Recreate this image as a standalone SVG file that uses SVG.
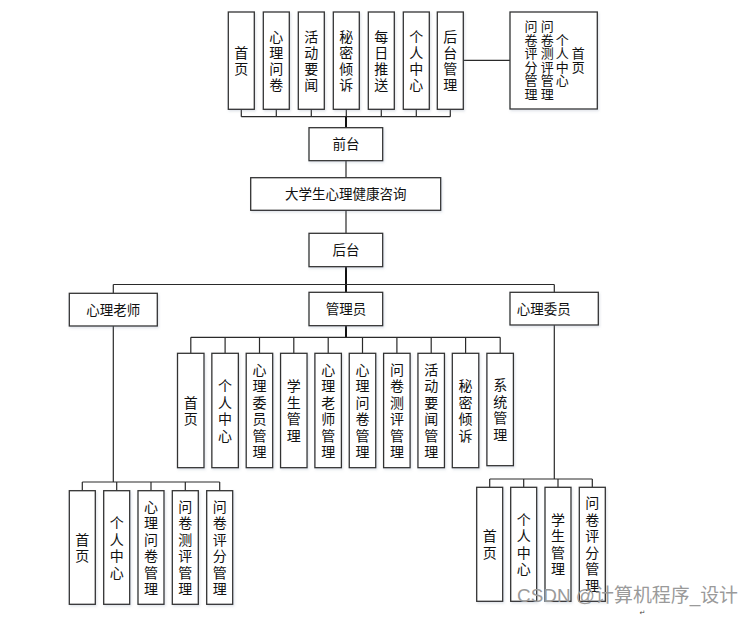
<svg xmlns="http://www.w3.org/2000/svg" width="755" height="617" viewBox="0 0 755 617">
<style>
  .box{fill:#ffffff;stroke:#333333;stroke-width:1.3;filter:url(#sh)}
  .ln{fill:none;stroke:#2a2a2a;stroke-width:1.2}
  .tk{fill:none;stroke:#111111;stroke-width:2}
  text{font-family:"Noto Sans CJK SC","Noto Sans",sans-serif;fill:#111111}
  .vt{font-size:14px;text-anchor:middle;writing-mode:vertical-rl;letter-spacing:2px}
  .vm{font-size:14px;text-anchor:middle;writing-mode:vertical-rl;letter-spacing:2.5px}
  .vs{font-size:13px;text-anchor:middle;writing-mode:vertical-rl;letter-spacing:0.5px}
  .h{font-size:13.5px;text-anchor:middle}
  .wm{font-family:"Liberation Sans","Noto Sans CJK SC",sans-serif;font-size:19px;fill:#9a9a9a}
</style>
<defs>
  <filter id="sh" x="-20%" y="-20%" width="140%" height="140%">
    <feDropShadow dx="1" dy="1.5" stdDeviation="1" flood-color="#8090a8" flood-opacity="0.25"/>
  </filter>
</defs>
<rect width="755" height="617" fill="#ffffff"/>

<g id="connectors">
  <path class="ln" d="M241.3 116.7H450.3M241.3 109.3V116.7M276.3 109.3V116.7M311.3 109.3V116.7M346.3 109.3V116.7M381.3 109.3V116.7M416.3 109.3V116.7M450.3 109.3V116.7"/>
  <path class="tk" d="M346 116.7V127.7"/>
  <path class="ln" d="M463.3 60.3H510"/>
  <path class="ln" d="M346 160.7V177.7M346 210.3V233.3"/>
  <path class="tk" d="M346 266.7V292.3"/>
  <path class="ln" d="M113.3 284.5H554.3M113.3 284.5V293.3M554.3 284.5V292.3"/>
  <path class="tk" d="M346 325.7V337.3"/>
  <path class="ln" d="M190.8 337.3H500.2M190.8 337.3V353.3M225.1 337.3V353.3M259.5 337.3V353.3M293.8 337.3V353.3M328.2 337.3V353.3M362.5 337.3V353.3M396.9 337.3V353.3M431.2 337.3V353.3M465.6 337.3V353.3M500.2 337.3V353.3"/>
  <path class="ln" d="M113.3 326V482M82.3 482H219.7M82.3 482V490.7M116.7 482V490.7M151 482V490.7M185.3 482V490.7M219.7 482V490.7"/>
  <path class="ln" d="M554.3 325V479M489.7 479H592.3M489.7 479V487.3M523.7 479V487.3M558 479V487.3M592.3 479V487.3"/>
</g>

<g id="n-f-home"><rect class="box" x="228.3" y="12" width="26" height="97.3"/><text class="vt" x="241.3" y="61.6">首页</text></g>
<g id="n-f-survey"><rect class="box" x="263.3" y="12" width="26" height="97.3"/><text class="vt" x="276.3" y="61.6">心理问卷</text></g>
<g id="n-f-news"><rect class="box" x="298.3" y="12" width="26" height="97.3"/><text class="vt" x="311.3" y="61.6">活动要闻</text></g>
<g id="n-f-secret"><rect class="box" x="333.3" y="12" width="26" height="97.3"/><text class="vt" x="346.3" y="61.6">秘密倾诉</text></g>
<g id="n-f-daily"><rect class="box" x="368.3" y="12" width="26" height="97.3"/><text class="vt" x="381.3" y="61.6">每日推送</text></g>
<g id="n-f-personal"><rect class="box" x="403.3" y="12" width="26" height="97.3"/><text class="vt" x="416.3" y="61.6">个人中心</text></g>
<g id="n-f-backend"><rect class="box" x="437.3" y="12" width="26" height="97.3"/><text class="vt" x="450.3" y="61.6">后台管理</text></g>
<g id="n-f-backend-menu"><rect class="box" x="510" y="12" width="87.3" height="97"/>
<text class="vs" x="531" y="60.25">问卷评分管理</text>
<text class="vs" x="547.3" y="60.25">问卷测评管理</text>
<text class="vs" x="562.3" y="60.25">个人中心</text>
<text class="vs" x="578.3" y="60.25">首页</text></g>

<g id="n-front"><rect class="box" x="309" y="127.7" width="73.7" height="33"/><text class="h" x="345.9" y="149">前台</text></g>
<g id="n-system"><rect class="box" x="250.7" y="177.7" width="190" height="32.6"/><text class="h" x="345.7" y="198.8">大学生心理健康咨询</text></g>
<g id="n-back"><rect class="box" x="309" y="233.3" width="73.7" height="33.4"/><text class="h" x="345.9" y="254.8">后台</text></g>

<g id="n-teacher"><rect class="box" x="69.3" y="293.3" width="88" height="32.7"/><text class="h" x="113.3" y="314.5">心理老师</text></g>
<g id="n-admin"><rect class="box" x="309" y="292.3" width="73.7" height="33.4"/><text class="h" x="345.9" y="313.8">管理员</text></g>
<g id="n-committee"><rect class="box" x="510" y="292.3" width="88.3" height="32.7"/><text class="h" x="516.7" y="313.5" style="text-anchor:start">心理委员</text></g>

<g id="n-a-home"><rect class="box" x="177.5" y="353.3" width="26.5" height="114.4"/><text class="vm" x="190.8" y="411.75">首页</text></g>
<g id="n-a-personal"><rect class="box" x="211.85" y="353.3" width="26.5" height="114.4"/><text class="vm" x="225.1" y="411.75">个人中心</text></g>
<g id="n-a-committee"><rect class="box" x="246.2" y="353.3" width="26.5" height="114.4"/><text class="vm" x="259.5" y="411.75">心理委员管理</text></g>
<g id="n-a-student"><rect class="box" x="280.55" y="353.3" width="26.5" height="114.4"/><text class="vm" x="293.8" y="411.75">学生管理</text></g>
<g id="n-a-teacher"><rect class="box" x="314.9" y="353.3" width="26.5" height="114.4"/><text class="vm" x="328.2" y="411.75">心理老师管理</text></g>
<g id="n-a-survey"><rect class="box" x="349.25" y="353.3" width="26.5" height="114.4"/><text class="vm" x="362.5" y="411.75">心理问卷管理</text></g>
<g id="n-a-eval"><rect class="box" x="383.6" y="353.3" width="26.5" height="114.4"/><text class="vm" x="396.9" y="411.75">问卷测评管理</text></g>
<g id="n-a-news"><rect class="box" x="417.95" y="353.3" width="26.5" height="114.4"/><text class="vm" x="431.2" y="411.75">活动要闻管理</text></g>
<g id="n-a-secret"><rect class="box" x="452.3" y="353.3" width="26.5" height="114.4"/><text class="vm" x="465.6" y="411.75">秘密倾诉</text></g>
<g id="n-a-system"><rect class="box" x="486.9" y="353.3" width="26.5" height="112.4"/><text class="vm" x="500.2" y="410.75">系统管理</text></g>

<g id="n-t-home"><rect class="box" x="69.3" y="490.7" width="26" height="113.6"/><text class="vm" x="82.3" y="548.75">首页</text></g>
<g id="n-t-personal"><rect class="box" x="103.7" y="490.7" width="26" height="113.6"/><text class="vm" x="116.7" y="548.75">个人中心</text></g>
<g id="n-t-survey"><rect class="box" x="138" y="490.7" width="26" height="113.6"/><text class="vm" x="151" y="548.75">心理问卷管理</text></g>
<g id="n-t-eval"><rect class="box" x="172.3" y="490.7" width="26" height="113.6"/><text class="vm" x="185.3" y="548.75">问卷测评管理</text></g>
<g id="n-t-score"><rect class="box" x="206.7" y="490.7" width="26" height="113.6"/><text class="vm" x="219.7" y="548.75">问卷评分管理</text></g>

<g id="n-c-home"><rect class="box" x="476.7" y="487.3" width="26" height="114"/><text class="vm" x="489.7" y="545.55">首页</text></g>
<g id="n-c-personal"><rect class="box" x="510.7" y="487.3" width="26" height="114"/><text class="vm" x="523.7" y="545.55">个人中心</text></g>
<g id="n-c-student"><rect class="box" x="545" y="487.3" width="26" height="114"/><text class="vm" x="558" y="545.55">学生管理</text></g>
<g id="n-c-score"><rect class="box" x="579.3" y="487.3" width="26" height="114"/><text class="vm" x="592.3" y="545.55">问卷评分管理</text></g>

<text class="wm" x="517" y="602" textLength="221" lengthAdjust="spacingAndGlyphs">CSDN @计算机程序_设计</text>
<text x="639.5" y="614.5" style="font-family:'DejaVu Sans',sans-serif;font-size:7px;fill:#444444">↵</text>
</svg>
